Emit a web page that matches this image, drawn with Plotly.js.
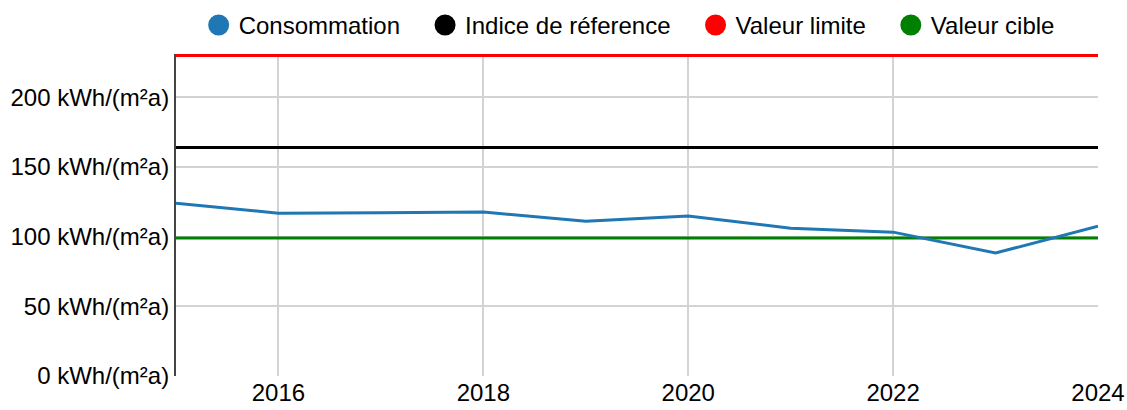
<!DOCTYPE html>
<html>
<head>
<meta charset="utf-8">
<script src="https://cdn.plot.ly/plotly-3.0.1.min.js"></script>
<style>html,body{margin:0;padding:0;background:#fff;}#chart{width:1127px;height:410px;}</style>
</head>
<body>
<div id="chart"></div>
<script>
const years = [2015, 2016, 2017, 2018, 2019, 2020, 2021, 2022, 2023, 2024];
const consommation = [124, 116.8, 117.2, 117.6, 111, 114.7, 106, 103.2, 88.2, 107.5];
const indiceReference = 164;
const valeurLimite = 230;
const valeurCible = 99;
const seriesNames = ["Consommation", "Indice de réference", "Valeur limite", "Valeur cible"];
const seriesColors = ["#1f77b4", "#000000", "#ff0000", "#008000"];
const yTickVals = [0, 50, 100, 150, 200];
const yTickText = yTickVals.map(v => v + " kWh/(m²a)");
const xTickVals = [2016, 2018, 2020, 2022, 2024];
const xRange = [2015, 2024];
const yRange = [0, 231];

const flat = v => years.map(() => v);
const dataSeries = [consommation, flat(indiceReference), flat(valeurLimite), flat(valeurCible)];

const traces = [];
[3, 1, 2, 0].forEach(i => {
  traces.push({
    x: years, y: dataSeries[i], type: 'scatter', mode: 'lines',
    line: {color: seriesColors[i], width: 3}, showlegend: false, hoverinfo: 'skip'
  });
});
const pad = '\u00a0\u00a0\u00a0';
seriesNames.forEach((n, i) => {
  traces.push({
    x: [null], y: [null], type: 'scatter', mode: 'markers',
    name: i < seriesNames.length - 1 ? n + pad : n,
    marker: {color: seriesColors[i], size: 16, symbol: 'circle', line: {color: seriesColors[i], width: 5}},
    showlegend: true
  });
});

const layout = {
  width: 1127, height: 410,
  margin: {l: 176, r: 29, t: 54, b: 34, pad: 0},
  paper_bgcolor: '#fff', plot_bgcolor: '#fff',
  font: {family: 'Liberation Sans, Arial, sans-serif', size: 24, color: '#000'},
  showlegend: true,
  legend: {orientation: 'h', x: 0.4915, xanchor: 'center', xref: 'paper', y: 0.993, yanchor: 'top', yref: 'container',
           font: {size: 24}, traceorder: 'normal', bgcolor: 'rgba(0,0,0,0)'},
  xaxis: {range: xRange, tickvals: xTickVals, ticks: '', showgrid: true,
          gridcolor: '#d3d3d3', gridwidth: 2, zeroline: false, showline: false, tickfont: {size: 24}},
  yaxis: {range: yRange, tickvals: yTickVals, ticktext: yTickText, ticks: '', showgrid: true,
          gridcolor: '#d3d3d3', gridwidth: 2, zeroline: false, showline: true, linecolor: '#444', linewidth: 2,
          tickfont: {size: 24}}
};
Plotly.newPlot('chart', traces, layout, {staticPlot: true});
</script>
</body>
</html>
